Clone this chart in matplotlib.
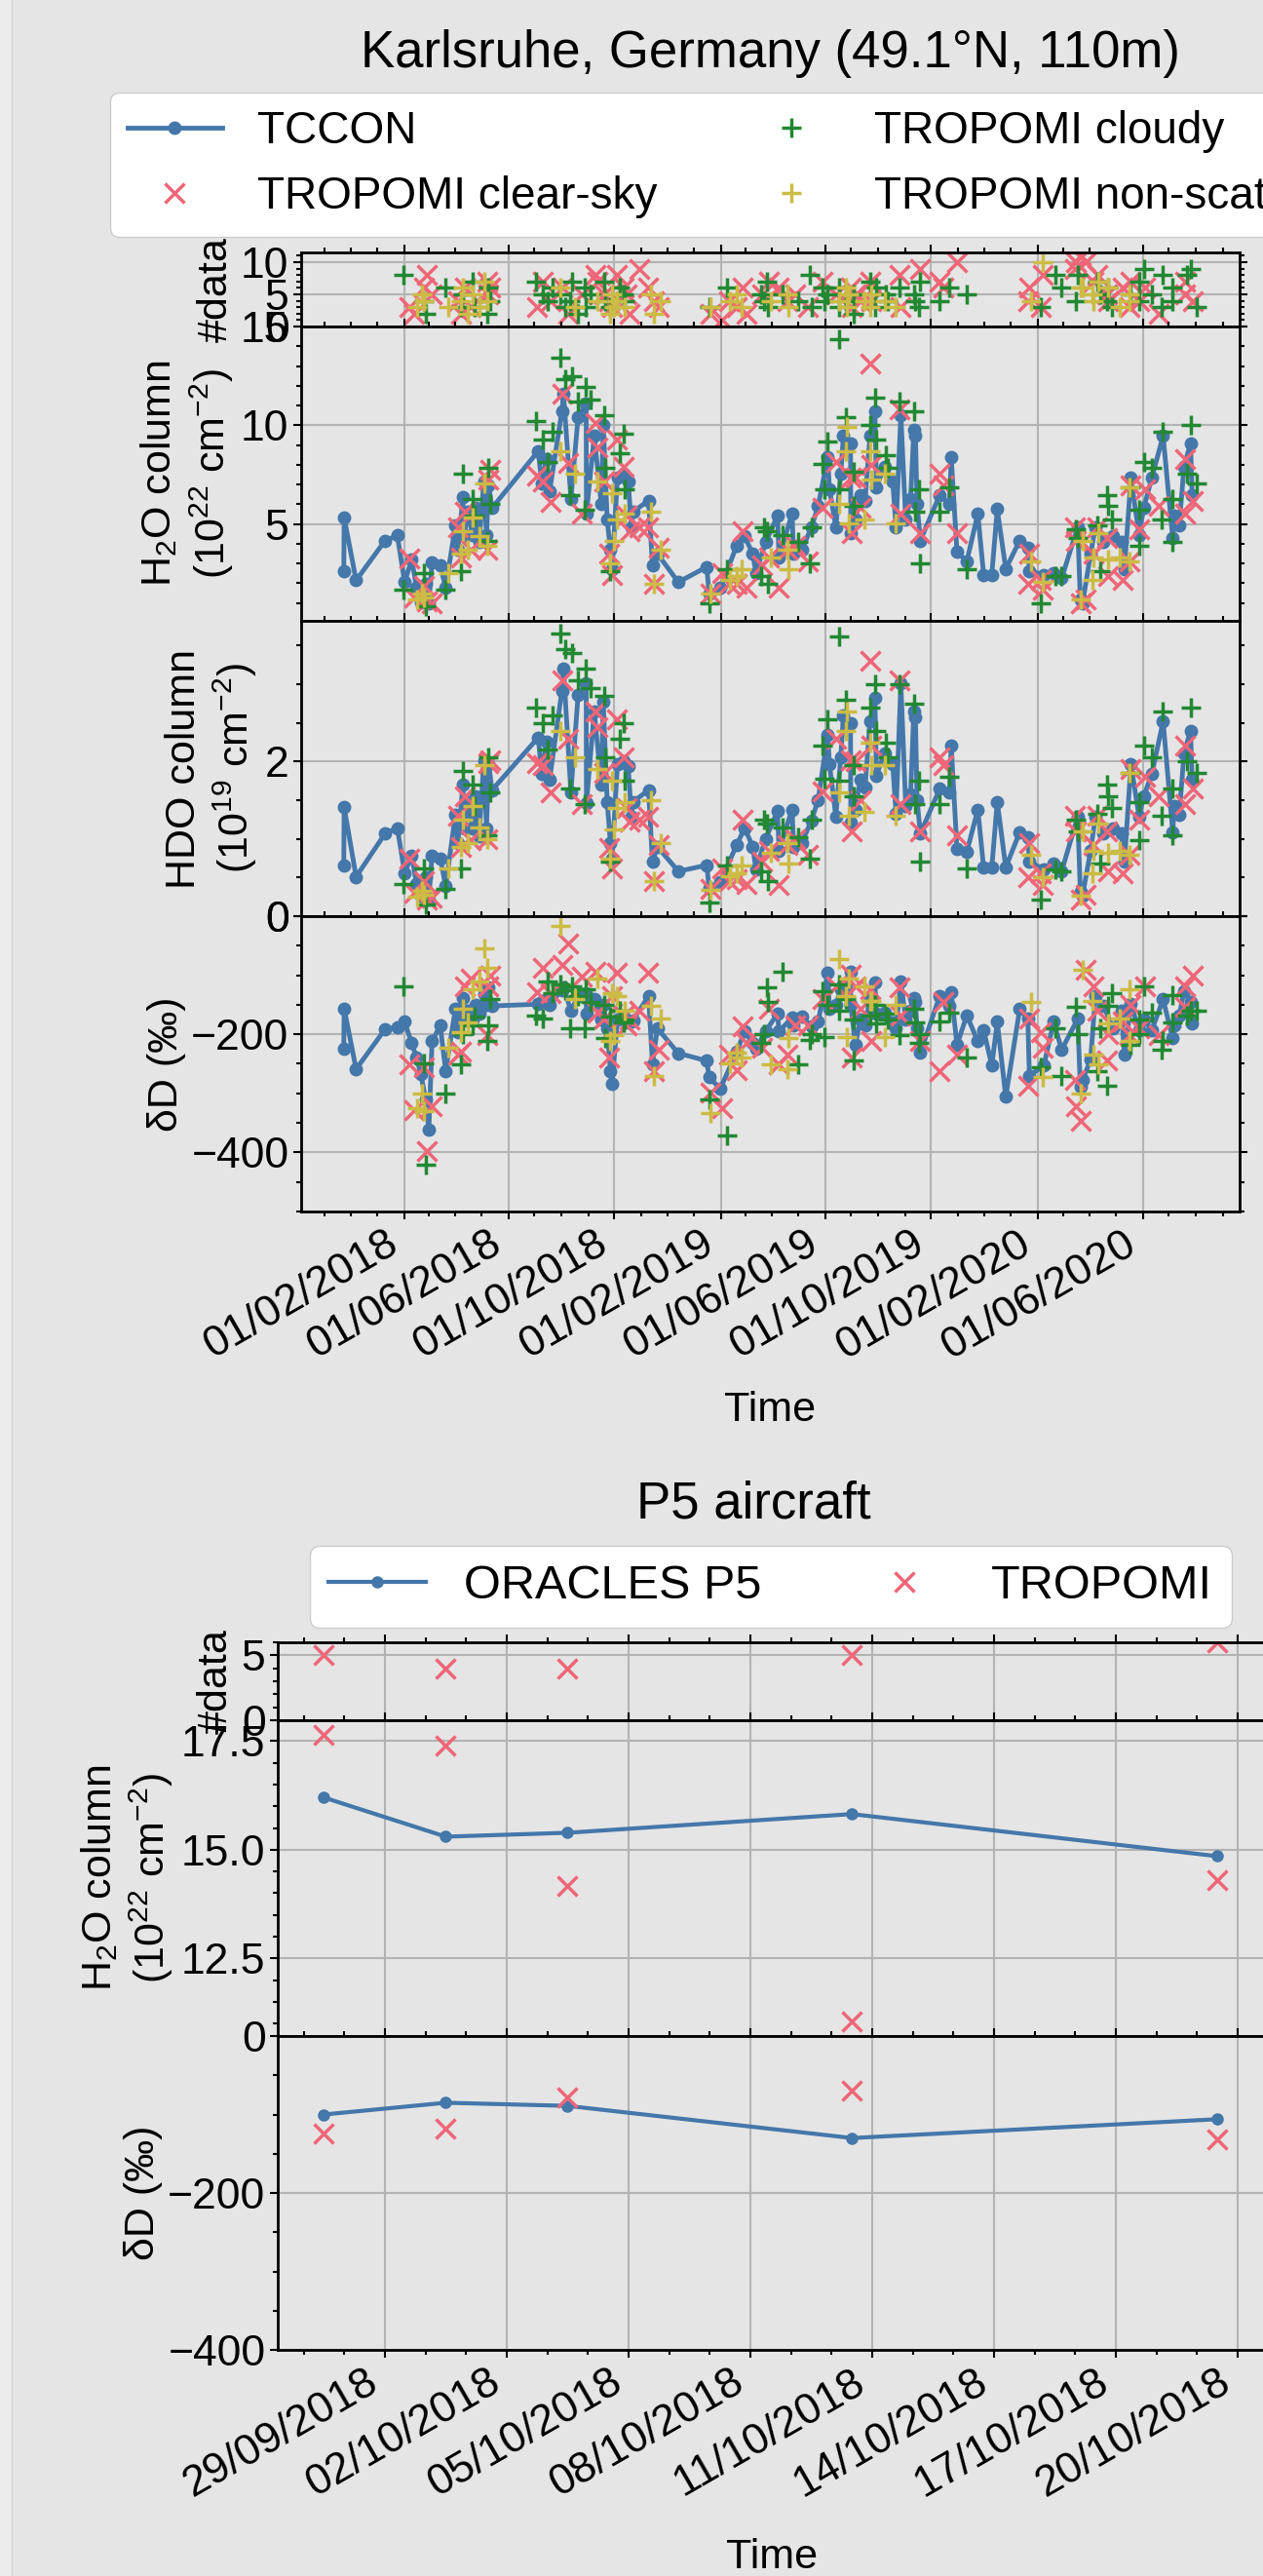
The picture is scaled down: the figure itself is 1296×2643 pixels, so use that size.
import numpy as np
import pandas as pd
import matplotlib
matplotlib.use('Agg')
import matplotlib.pyplot as plt
import matplotlib.dates as mdates
from matplotlib.ticker import AutoMinorLocator, FormatStrFormatter, FixedLocator
from matplotlib.patches import Rectangle

plt.rcParams['font.family'] = ['Liberation Sans', 'DejaVu Sans']
plt.rcParams['mathtext.default'] = 'regular'

# ---------------- Karlsruhe data (days since 2018-01-01) ----------------
tccon_day = [-38.7, -38.3, -24.5, 9, 23, 31.4, 39.6, 45.2, 50, 55.6,
             59.3, 63, 72.4, 78.7, 89.9, 92.9, 98.5, 100.3, 104, 109.6,
             113.4, 117.1, 122.7, 125.7, 128.3, 132, 185.3, 189.5, 195, 198.5,
             212.6, 214.5, 223, 231.3, 240.6, 240.9, 249.9, 258, 260.3, 264.8,
             268.5, 270.4, 276.7, 283.4, 289, 292.8, 294.6, 312.5, 317, 322.6,
             346.8, 379.6, 382.2, 395.2, 413.9, 423.2, 432.5, 436.2, 447.4, 461,
             462.9, 477.8, 479.7, 489, 500.3, 507.8, 519, 520.9, 528.3, 534,
             537, 545.2, 545.5, 550.8, 556.4, 562, 567.6, 573.3, 575.1, 584.5,
             593.8, 597.6, 603.2, 608.8, 614.4, 618.2, 620, 621.9, 625.7, 648.1,
             659.3, 661.2, 667.9, 679.2, 691.9, 698.6, 708, 714.3, 724.1, 740.2,
             749.5, 751.3, 768, 779.2, 788.5, 807, 810, 812.6, 821.9, 827.4,
             836.7, 847.9, 857.2, 860.9, 868.3, 877.6, 883.1, 892.4, 905.4, 916.5,
             918.4, 924, 929.5, 937, 938.8]
tccon_h2o = [2.63, 5.33, 2.15, 4.17, 4.42, 2.06, 3.21, 1.77, 1.04, 1.96,
             1.0, 3.08, 2.92, 1.77, 4.94, 3.69, 6.35, 4.46, 5.62, 4.46,
             5.81, 4.08, 7.15, 4.46, 6.96, 5.81, 8.69, 7.06, 8.3, 6.67,
             10.71, 11.58, 6.29, 10.42, 11.1, 5.52, 9.46, 6.0, 10.04, 5.23,
             3.69, 2.73, 7.35, 7.54, 7.15, 4.85, 5.62, 6.19, 2.92, 3.5,
             2.06, 2.83, 1.48, 1.77, 3.88, 4.37, 3.5, 2.54, 4.08, 5.42,
             3.31, 5.52, 3.5, 3.69, 4.85, 5.9, 8.4, 6.77, 4.85, 7.54,
             9.46, 9.08, 4.56, 5.23, 6.48, 6.19, 9.46, 10.71, 6.87, 7.92,
             7.15, 4.85, 10.52, 5.23, 6.29, 9.75, 9.46, 6.0, 4.17, 6.48,
             6.0, 8.4, 3.6, 3.12, 5.52, 2.44, 2.44, 5.75, 2.73, 4.17,
             3.79, 2.63, 2.44, 2.54, 2.25, 4.85, 1.19, 1.0, 3.5, 4.85,
             4.08, 4.37, 4.08, 2.73, 7.35, 4.46, 5.81, 7.35, 9.46, 4.27,
             5.42, 4.94, 7.92, 9.08, 6.48]
tccon_hdo = [0.66, 1.41, 0.51, 1.07, 1.14, 0.56, 0.78, 0.41, 0.27, 0.51,
             0.22, 0.78, 0.75, 0.39, 1.31, 0.95, 1.70, 1.14, 1.48, 1.14,
             1.55, 1.04, 2.01, 1.14, 1.97, 1.63, 2.31, 1.84, 2.26, 1.77,
             2.91, 3.20, 1.60, 2.86, 3.01, 1.46, 2.65, 1.70, 2.77, 1.48,
             0.95, 0.75, 1.97, 2.01, 1.94, 1.29, 1.48, 1.63, 0.70, 0.90,
             0.58, 0.66, 0.36, 0.44, 0.92, 1.14, 0.90, 0.61, 1.0, 1.36,
             0.85, 1.38, 0.90, 0.95, 1.24, 1.50, 2.35, 1.97, 1.29, 2.06,
             2.60, 2.50, 1.21, 1.38, 1.77, 1.67, 2.52, 2.82, 1.82, 2.11,
             1.97, 1.33, 3.01, 1.43, 1.58, 2.65, 2.57, 1.50, 1.07, 1.65,
             1.60, 2.21, 0.87, 0.83, 1.38, 0.63, 0.63, 1.48, 0.63, 1.09,
             1.02, 0.70, 0.61, 0.68, 0.58, 1.29, 0.32, 0.27, 0.85, 1.29,
             1.07, 1.14, 1.07, 0.70, 1.97, 1.29, 1.55, 1.84, 2.52, 1.09,
             1.43, 1.31, 2.11, 2.40, 1.77]
tccon_dd = [-224, -156, -259, -191, -188, -179, -215, -240, -267, -310,
            -361, -212, -185, -262, -157, -196, -138, -170, -160, -175,
            -150, -165, -132, -150, -121, -152, -149, -145, -140, -150,
            -125, -120, -160, -135, -130, -165, -140, -175, -150, -190,
            -262, -284, -175, -170, -180, -178, -176, -135, -251, -190,
            -232, -245, -273, -292, -230, -195, -215, -225, -195, -165,
            -195, -172, -185, -170, -187, -179, -96, -157, -150, -124,
            -115, -94, -150, -218, -175, -185, -140, -113, -165, -163,
            -180, -190, -110, -175, -160, -138, -145, -190, -231, -135,
            -152, -129, -218, -168, -212, -193, -253, -179, -306, -157,
            -174, -270, -253, -179, -226, -174, -289, -278, -242, -135,
            -152, -190, -160, -234, -149, -193, -175, -193, -141, -207,
            -185, -168, -127, -146, -182]

# TROPOMI clear-sky
cs_day = [37, 42.6, 53.7, 57.5, 63, 92.9, 96.6, 100.3, 107.8, 126.4,
          128.3, 130.1, 184.2, 190.3, 199.6, 212.6, 220, 235, 251.8, 253.6,
          261, 266.7, 270.4, 276, 283.4, 287.2, 291, 302, 311.4, 318.8,
          324.4, 384, 397, 404.6, 413.9, 421.3, 425, 443.7, 451.6, 462.9,
          472.2, 481.6, 496.5, 513.4, 528.3, 545.2, 547.1, 550.8, 556.4, 567.6,
          569.5, 601.3, 603.2, 625.7, 648.1, 651.9, 667.9, 749.5, 751.3, 764.3,
          766.2, 803.3, 805.2, 810.7, 816.3, 825.6, 829.3, 840.4, 842.3, 859,
          866.4, 868.3, 877.6, 885.1, 899.8, 930.4, 930.4, 939.7]
cs_n = [3, 2, 6, 8, 5, 4, 2, 6, 3, 7,
        5, 6, 3, 7, 4, 6, 2, 5, 8, 7,
        5, 4, 3, 8, 6, 5, 2, 9, 6, 4,
        3, 2, 1, 4, 3, 6, 2, 5, 7, 6,
        4, 5, 3, 7, 5, 6, 3, 5, 4, 7,
        4, 8, 3, 9, 7, 6, 10, 4, 6, 3,
        8, 9, 10, 11, 10, 7, 8, 5, 4, 6,
        3, 7, 4, 6, 2, 5, 7, 4]
cs_h2o = [3.27, 1.29, 1.87, 1.10, 1.00, 4.85, 3.31, 5.62, 3.69, 3.69,
          7.25, 7.73, 7.44, 7.15, 6.10, 11.58, 8.10, 5.52, 10.13, 8.88,
          7.15, 3.50, 2.44, 9.27, 7.92, 5.42, 4.65, 4.85, 4.85, 1.96,
          3.79, 1.48, 2.54, 1.96, 1.96, 4.65, 1.77, 2.92, 3.31, 1.77,
          3.69, 3.88, 3.12, 5.81, 8.12, 7.35, 4.56, 7.35, 5.81, 13.12,
          7.98, 10.81, 5.52, 4.56, 7.54, 6.96, 4.56, 1.96, 3.50, 2.15,
          1.67, 4.85, 4.17, 1.00, 1.19, 3.50, 4.85, 4.27, 2.35, 2.15,
          3.12, 6.96, 4.75, 6.77, 5.90, 8.31, 5.52, 6.19]
cs_hdo = [0.75, 0.30, 0.45, 0.22, 0.24, 1.30, 0.90, 1.55, 0.98, 1.00,
          1.98, 2.02, 1.98, 1.95, 1.60, 3.05, 2.30, 1.45, 2.65, 2.45,
          1.85, 0.88, 0.62, 2.55, 2.05, 1.40, 1.22, 1.25, 1.28, 0.45,
          0.92, 0.35, 0.62, 0.46, 0.48, 1.25, 0.42, 0.70, 0.85, 0.40,
          0.92, 1.00, 0.80, 1.62, 2.30, 2.02, 1.10, 2.00, 1.50, 3.30,
          2.20, 3.05, 1.45, 1.10, 2.05, 1.95, 1.05, 0.50, 0.95, 0.55,
          0.40, 1.30, 1.10, 0.22, 0.28, 0.92, 1.30, 1.10, 0.58, 0.55,
          0.80, 1.90, 1.25, 1.80, 1.55, 2.20, 1.45, 1.65]
cs_dd = [-251, -328, -256, -397, -322, -234, -229, -118, -106, -201,
         -118, -101, -129, -88, -130, -83, -47, -102, -94, -163,
         -174, -240, -135, -96, -168, -185, -175, -160, -96, -262,
         -226, -298, -325, -234, -260, -187, -215, -223, -157, -251,
         -234, -185, -185, -140, -118, -99, -240, -118, -157, -124,
         -212, -121, -168, -212, -262, -146, -234, -287, -174, -196,
         -223, -278, -322, -347, -91, -118, -160, -245, -200, -179,
         -201, -150, -190, -118, -201, -118, -154, -101]

# TROPOMI cloudy
cl_day = [29.8, 53.7, 55.6, 78.7, 96.6, 98.5, 109.6, 111.5, 126.4, 128.3,
          130.1, 182.8, 190.3, 196, 201.4, 210.8, 216.3, 221.9, 223.8, 231.3,
          238.7, 240.6, 246.2, 261.1, 262.9, 268.5, 279.7, 283.4, 285.3, 382.2,
          402.7, 441.8, 445.9, 449.3, 449.8, 466.6, 485.3, 498.4, 500.3, 513.4,
          515.3, 519, 532.1, 532.1, 539.6, 549, 549, 567.6, 573.3, 575.1,
          586.4, 588.2, 601.3, 618.2, 620, 623.8, 625.7, 648.1, 659.3, 679.2,
          764.3, 781, 788.5, 805.2, 807, 829.3, 833.1, 840.4, 842.3, 846,
          868.3, 877.6, 877.6, 883.1, 892.4, 903.5, 905.4, 916.5, 916.5, 933.2,
          937, 944.4]
cl_n = [8, 4, 2, 6, 3, 5, 7, 3, 2, 6,
        4, 7, 5, 4, 6, 5, 3, 4, 7, 2,
        6, 3, 5, 7, 4, 3, 6, 5, 4, 3,
        6, 5, 4, 7, 3, 5, 4, 8, 3, 6,
        4, 5, 3, 6, 4, 2, 5, 7, 3, 6,
        5, 4, 6, 5, 4, 3, 7, 4, 6, 5,
        3, 8, 6, 4, 8, 7, 5, 4, 6, 3,
        5, 7, 4, 9, 5, 3, 8, 6, 4, 8,
        9, 3]
cl_h2o = [1.67, 2.54, 0.85, 1.67, 2.63, 7.54, 6.29, 5.42, 4.17, 7.83,
          6.04, 10.23, 9.27, 8.12, 9.65, 13.4, 12.35, 6.48, 12.5, 11.2,
          5.71, 11.96, 11.29, 10.52, 7.83, 2.63, 8.6, 9.56, 6.77, 1.0,
          2.73, 2.35, 4.85, 4.65, 1.96, 4.46, 4.08, 3.02, 4.85, 8.02,
          6.77, 9.17, 14.37, 6.77, 10.42, 7.63, 5.9, 10.04, 11.38, 9.27,
          8.5, 7.83, 11.19, 10.71, 5.62, 6.77, 3.02, 5.62, 6.87, 2.73,
          1.0, 2.35, 2.35, 4.75, 4.27, 4.94, 2.63, 6.48, 5.9, 5.23,
          6.87, 5.71, 3.88, 8.12, 7.83, 5.23, 9.65, 4.08, 6.29, 7.54,
          10.04, 7.06]
cl_hdo = [0.42, 0.62, 0.15, 0.35, 0.62, 1.88, 1.70, 1.42, 1.05, 2.05,
          1.60, 2.70, 2.50, 2.15, 2.60, 3.65, 3.45, 1.65, 3.40, 3.05,
          1.45, 3.20, 2.95, 2.85, 2.05, 0.70, 2.30, 2.50, 1.75, 0.18,
          0.65, 0.58, 1.25, 1.20, 0.45, 1.15, 1.02, 0.75, 1.25, 2.20,
          1.78, 2.55, 3.62, 1.75, 2.80, 1.95, 1.55, 2.70, 3.00, 2.40,
          2.25, 2.05, 3.00, 2.75, 1.45, 1.75, 0.70, 1.45, 1.80, 0.62,
          0.22, 0.60, 0.58, 1.25, 1.10, 1.32, 0.68, 1.70, 1.55, 1.40,
          1.85, 1.48, 0.98, 2.20, 2.05, 1.30, 2.65, 1.05, 1.65, 2.00,
          2.70, 1.85]
cl_dd = [-118, -250, -421, -300, -251, -200, -185, -170, -212, -185,
         -140, -168, -174, -110, -130, -115, -125, -190, -118, -135,
         -190, -124, -145, -150, -207, -170, -160, -180, -175, -310,
         -372, -215, -200, -121, -146, -94, -251, -209, -200, -127,
         -204, -150, -116, -160, -140, -245, -175, -168, -150, -182,
         -165, -175, -201, -157, -180, -215, -200, -179, -163, -240,
         -256, -190, -270, -154, -200, -262, -190, -287, -152, -130,
         -218, -200, -175, -118, -163, -226, -212, -180, -133, -168,
         -160, -160]

# TROPOMI non-scattering
ns_day = [46.3, 51.9, 54, 81.7, 96.6, 98.5, 104, 109.6, 118, 122.7,
          126.4, 210.8, 227.6, 253.6, 268.5, 270.4, 272.3, 276, 285.3, 315.1,
          318.8, 326.3, 384, 406.4, 413.9, 419.5, 453.5, 472.2, 474.1, 532.1,
          539.6, 541.5, 543.3, 561.3, 567.6, 569.5, 584.5, 597.6, 753.2, 766.2,
          810.7, 812.6, 823.7, 825.6, 831.2, 842.3, 855.3, 866.4, 866.4]
ns_n = [3, 5, 4, 3, 4, 6, 2, 5, 3, 7,
        4, 6, 3, 4, 2, 5, 3, 4, 3, 5,
        2, 4, 3, 4, 5, 3, 4, 5, 3, 4,
        6, 3, 5, 4, 3, 5, 4, 3, 4, 10,
        6, 6, 5, 4, 7, 6, 3, 4, 5]
ns_h2o = [1.19, 1.48, 1.30, 2.54, 3.5, 4.65, 3.69, 5.33, 4.4, 7.06,
          3.88, 8.69, 7.54, 7.15, 3.02, 6.58, 4.17, 5.23, 5.52, 5.62,
          1.96, 3.69, 1.48, 2.15, 2.35, 2.73, 3.31, 3.69, 2.73, 6.0,
          8.69, 9.94, 5.04, 5.23, 8.69, 7.25, 7.54, 5.04, 3.12, 2.06,
          1.19, 4.17, 2.15, 3.31, 4.56, 3.21, 3.31, 3.12, 6.87]
ns_hdo = [0.25, 0.33, 0.28, 0.62, 0.90, 1.25, 0.95, 1.42, 1.15, 1.95,
          1.00, 2.40, 2.05, 1.90, 0.75, 1.75, 1.12, 1.40, 1.48, 1.50,
          0.45, 0.95, 0.34, 0.52, 0.56, 0.66, 0.82, 0.95, 0.68, 1.60,
          2.40, 2.65, 1.30, 1.35, 2.25, 1.95, 1.95, 1.30, 0.80, 0.50,
          0.26, 1.10, 0.55, 0.85, 1.20, 0.82, 0.85, 0.80, 1.85]
ns_dd = [-325, -300, -330, -223, -196, -157, -180, -123, -110, -55,
         -88, -17, -140, -105, -212, -130, -201, -135, -160, -152,
         -270, -174, -333, -250, -231, -240, -251, -259, -207, -72,
         -135, -204, -105, -118, -143, -143, -204, -150, -146, -273,
         -300, -91, -143, -234, -251, -182, -174, -212, -124]

# ---------------- P5 aircraft data ----------------
p5_dates = ['2018-09-27 12:00', '2018-09-30 12:00', '2018-10-03 12:00',
            '2018-10-10 12:00', '2018-10-19 12:00']
oracles_h2o = [16.2, 15.3, 15.39, 15.82, 14.85]
oracles_dd = [-100, -85, -89, -130, -106]
p5_trop_n = [5, 4, 4, 5, 6]
p5_trop_h2o = [17.65, 17.39, 14.17, 11.04, 14.3]
p5_trop_dd = [-124, -118, -78, -69, -132]
p5_ticks = ['2018-09-29', '2018-10-02', '2018-10-05', '2018-10-08',
            '2018-10-11', '2018-10-14', '2018-10-17', '2018-10-20']
p5_xlim = ['2018-09-26 08:40', '2018-10-20 17:15']

BG = '#e5e5e5'
C_TCCON = '#4477aa'
C_CLEAR = '#ee6677'
C_CLOUD = '#228833'
C_NS = '#ccbb44'
FS = 32
MS = 15
MEW = 2.5


def to_dates(days):
    return pd.Timestamp('2018-01-01') + pd.to_timedelta(np.asarray(days, dtype=float), unit='D')


def style(ax):
    ax.set_facecolor(BG)
    ax.grid(True, which='major', color='#b3b3b3', lw=1.5)
    ax.set_axisbelow(True)
    for s in ax.spines.values():
        s.set_color('black')
        s.set_linewidth(2)
    ax.tick_params(which='both', direction='out', top=True, right=True,
                   width=1.5, labelsize=FS, pad=3)
    ax.tick_params(which='major', length=6)
    ax.tick_params(which='minor', length=3.5)


W, H = 1296, 2643
fig = plt.figure(figsize=(W / 100, H / 100), dpi=100, facecolor=BG)

# light strip at the very left
fig.patches.append(Rectangle((0, 0), 12 / W, 1, transform=fig.transFigure,
                             color='#ececec', zorder=0))
fig.add_artist(plt.Line2D([12 / W, 12 / W], [0, 1], transform=fig.transFigure,
                          color='#d4d4d4', lw=1))

# ================= Karlsruhe panel =================
L1, W1 = 309 / W, 963 / W
ax_n = fig.add_axes([L1, 1 - 335 / H, W1, 76 / H])
ax_w = fig.add_axes([L1, 1 - 637 / H, W1, 302 / H], sharex=ax_n)
ax_h = fig.add_axes([L1, 1 - 940 / H, W1, 303 / H], sharex=ax_n)
ax_d = fig.add_axes([L1, 1 - 1243 / H, W1, 303 / H], sharex=ax_n)

td = to_dates(tccon_day)
series = [
    (to_dates(cs_day), cs_n, cs_h2o, cs_hdo, cs_dd, 'x', C_CLEAR, 'TROPOMI clear-sky'),
    (to_dates(cl_day), cl_n, cl_h2o, cl_hdo, cl_dd, '+', C_CLOUD, 'TROPOMI cloudy'),
    (to_dates(ns_day), ns_n, ns_h2o, ns_hdo, ns_dd, '+', C_NS, 'TROPOMI non-scattering'),
]

handles = []
for ax, vals in [(ax_w, tccon_h2o), (ax_h, tccon_hdo), (ax_d, tccon_dd)]:
    ln, = ax.plot(td, vals, '-o', color=C_TCCON, lw=3.5, ms=9, label='TCCON')
handles.append(ln)

for d, n, w, h, dd, mk, col, lab in series:
    ax_n.plot(d, n, mk, color=col, ms=MS, mew=MEW, ls='none')
    ax_w.plot(d, w, mk, color=col, ms=MS, mew=MEW, ls='none')
    ax_h.plot(d, h, mk, color=col, ms=MS, mew=MEW, ls='none')
    m, = ax_d.plot(d, dd, mk, color=col, ms=MS, mew=MEW, ls='none', label=lab)
    handles.append(m)

for ax in [ax_n, ax_w, ax_h, ax_d]:
    style(ax)
    ax.yaxis.set_minor_locator(AutoMinorLocator())

ax_n.set_yticks([0, 5, 10])
ax_w.set_yticks([5, 10, 15])
ax_w.set_ylim(0.1, 15)
ax_h.set_yticks([0, 2, 4])
ax_h.set_ylim(0, 3.82)
ax_d.set_yticks([-400, -200, 0])
ax_d.set_ylim(-500, 0)

ax_n.set_ylabel('#data', fontsize=31)
ax_w.set_ylabel('H$_2$O column\n(10$^{22}$ cm$^{-2}$)', fontsize=31)
ax_h.set_ylabel('HDO column\n(10$^{19}$ cm$^{-2}$)', fontsize=31)
ax_d.set_ylabel('δD (‰)', fontsize=31)

ax_d.xaxis.set_major_locator(mdates.MonthLocator(bymonth=[2, 6, 10]))
ax_d.xaxis.set_minor_locator(mdates.MonthLocator())
ax_d.xaxis.set_major_formatter(mdates.DateFormatter('%d/%m/%Y'))
for ax in [ax_n, ax_w, ax_h]:
    ax.tick_params(labelbottom=False)
plt.setp(ax_d.get_xticklabels(), rotation=30, ha='right')
ax_d.set_xlabel('Time', fontsize=31, labelpad=18)

fig.text(790 / W, 1 - 55 / H, 'Karlsruhe, Germany (49.1°N, 110m)',
         ha='center', va='center', fontsize=38)
fig.legend(handles, [h.get_label() for h in handles], loc='upper left',
           bbox_to_anchor=(113 / W, 1 - 95 / H), borderaxespad=0, ncol=2,
           fontsize=33, handlelength=2.1, columnspacing=1.95,
           framealpha=1, edgecolor='#cccccc', facecolor='white')

# ================= P5 aircraft panel =================
L2, W2 = 285 / W, 1015 / W
bx_n = fig.add_axes([L2, 1 - 1765 / H, W2, 80 / H])
bx_w = fig.add_axes([L2, 1 - 2089 / H, W2, 324 / H], sharex=bx_n)
bx_d = fig.add_axes([L2, 1 - 2411 / H, W2, 322 / H], sharex=bx_n)

pd5 = pd.to_datetime(p5_dates)
o1, = bx_w.plot(pd5, oracles_h2o, '-o', color=C_TCCON, lw=3, ms=8, label='ORACLES P5')
bx_d.plot(pd5, oracles_dd, '-o', color=C_TCCON, lw=3, ms=8)
bx_n.plot(pd5, p5_trop_n, 'x', color=C_CLEAR, ms=MS, mew=MEW, ls='none')
t1, = bx_w.plot(pd5, p5_trop_h2o, 'x', color=C_CLEAR, ms=MS, mew=MEW, ls='none', label='TROPOMI')
bx_d.plot(pd5, p5_trop_dd, 'x', color=C_CLEAR, ms=MS, mew=MEW, ls='none')

for ax in [bx_n, bx_w, bx_d]:
    style(ax)
    ax.yaxis.set_minor_locator(AutoMinorLocator())

bx_n.set_yticks([0, 5])
bx_n.set_ylim(0, 6)
bx_w.set_yticks([12.5, 15.0, 17.5])
bx_w.yaxis.set_major_formatter(FormatStrFormatter('%.1f'))
bx_w.set_ylim(10.71, 17.98)
bx_d.set_yticks([-400, -200, 0])
bx_d.set_ylim(-400, 0)

bx_n.set_ylabel('#data', fontsize=31)
bx_w.set_ylabel('H$_2$O column\n(10$^{22}$ cm$^{-2}$)', fontsize=31)
bx_d.set_ylabel('δD (‰)', fontsize=31)

bx_d.set_xlim(pd.to_datetime(p5_xlim))
bx_d.xaxis.set_major_locator(FixedLocator(mdates.date2num(pd.to_datetime(p5_ticks))))
bx_d.xaxis.set_minor_locator(mdates.DayLocator())
bx_d.xaxis.set_major_formatter(mdates.DateFormatter('%d/%m/%Y'))
for ax in [bx_n, bx_w]:
    ax.tick_params(labelbottom=False)
plt.setp(bx_d.get_xticklabels(), rotation=30, ha='right')
bx_d.set_xlabel('Time', fontsize=31, labelpad=24)

fig.text(773 / W, 1 - 1544 / H, 'P5 aircraft', ha='center', va='center', fontsize=38)
fig.legend([o1, t1], ['ORACLES P5', 'TROPOMI'], loc='upper left',
           bbox_to_anchor=(318 / W, 1 - 1586 / H), borderaxespad=0, ncol=2,
           fontsize=35, handlelength=2.05, columnspacing=2.0,
           framealpha=1, edgecolor='#cccccc', facecolor='white')

fig.savefig('out.png', dpi=100, facecolor=BG)
